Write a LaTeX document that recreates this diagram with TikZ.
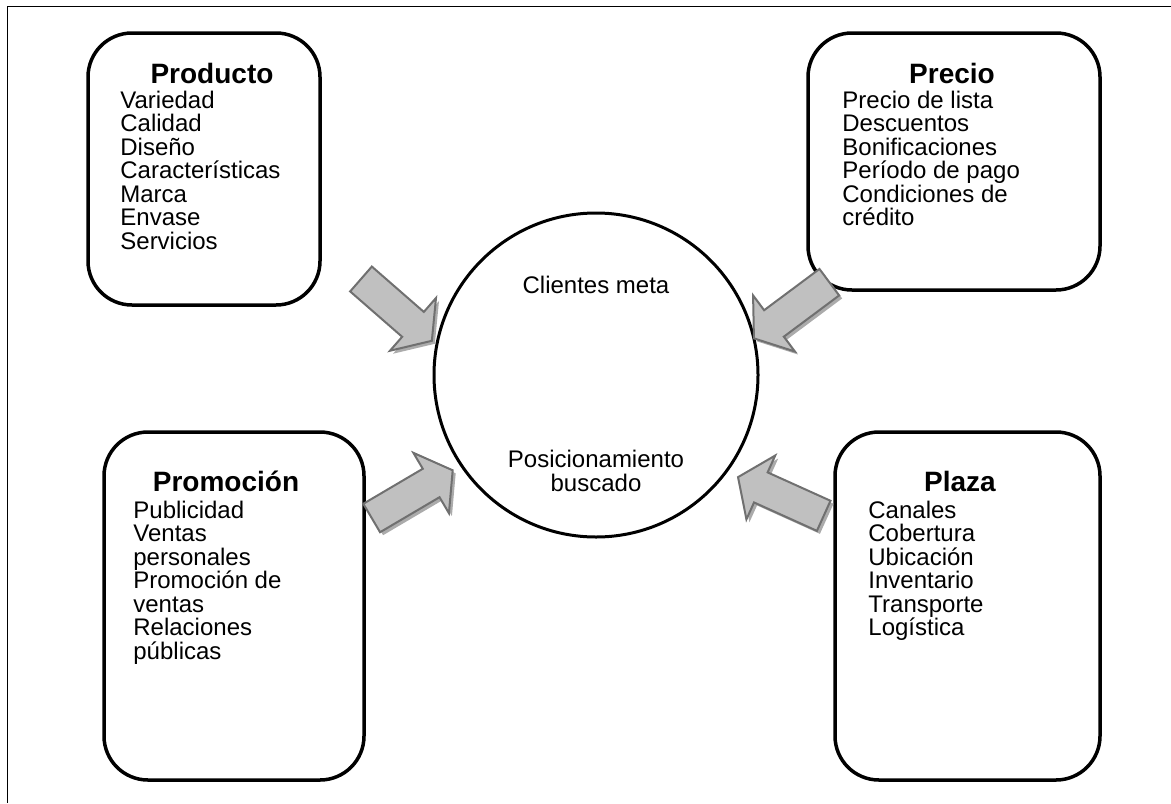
\documentclass[tikz,border=0pt]{standalone}
\usepackage{fontspec}
\setmainfont{Liberation Sans}
\definecolor{arrowfill}{HTML}{C0C0C0}
\definecolor{arrowline}{HTML}{707070}
\definecolor{arrowshadow}{HTML}{ABABAB}
\begin{document}
\begin{tikzpicture}[x=0.5pt,y=-0.5pt,
  frameline/.style={line width=0.75pt},
  mixbox/.style={draw, line width=1.75pt, rounded corners=22pt, inner sep=0pt},
  hub/.style={draw, circle, line width=1.5pt, minimum size=162pt, inner sep=0pt},
  boxtitle/.style={font=\fontsize{14}{16}\selectfont\bfseries, anchor=base, inner sep=0pt},
  items/.style={font=\fontsize{12}{11.75}\selectfont, align=left, anchor=base west, inner sep=0pt},
  hubtext/.style={font=\fontsize{12}{11.75}\selectfont, align=center, anchor=base, inner sep=0pt},
  arrowbody/.style={fill=arrowfill, draw=arrowline, line width=1pt, line join=miter},
  arrowshade/.style={fill=arrowshadow},
]
\useasboundingbox (0,0) rectangle (1171,803);

% outer frame
\draw[frameline] (1171,6.5) -- (7.5,6.5) -- (7.5,803);

% the four mix boxes
\node[mixbox, minimum width=116pt, minimum height=136pt] (producto) at (204,169) {};
\node[mixbox, minimum width=146pt, minimum height=128.5pt] (precio) at (954,161.5) {};
\node[mixbox, minimum width=130pt, minimum height=174pt] (promocion) at (234,606) {};
\node[mixbox, minimum width=132.5pt, minimum height=174pt] (plaza) at (967.5,606) {};

% titles
\node[boxtitle] (tprod) at (212,83) {Producto};
\node[boxtitle] (tprec) at (952,83) {Precio};
\node[boxtitle] (tprom) at (226,491) {Promoción};
\node[boxtitle] (tplaz) at (960,491) {Plaza};

% item lists (anchored at the baseline of their last line)
\node[items] (lprod) at (120,249) {Variedad\\Calidad\\Diseño\\Características\\Marca\\Envase\\Servicios};
\node[items] (lprec) at (842,225.5) {Precio de lista\\Descuentos\\Bonificaciones\\Período de pago\\Condiciones de\\crédito};
\node[items] (lprom) at (133,659) {Publicidad\\Ventas\\personales\\Promoción de\\ventas\\Relaciones\\públicas};
\node[items] (lplaz) at (868,635.5) {Canales\\Cobertura\\Ubicación\\Inventario\\Transporte\\Logística};

% central circle
\node[hub] (hub) at (596,375) {};
\node[hubtext] (meta) at (596,293) {Clientes meta};
\node[hubtext] (pos) at (596,491) {Posicionamiento\\buscado};

% block arrows pointing at the circle
\coordinate (a1) at (361,279);
\coordinate (a2) at (829.3,282.2);
\coordinate (a3) at (371.7,518);
\coordinate (a4) at (823.7,515.8);
\foreach \c/\a in {a1/-41.1, a2/-143.3, a3/30.5, a4/155.7} {
  \fill[arrowshade, shift={(\c)}, shift={(3,3)}, rotate=\a]
    (0,-16.5) -- (69,-16.5) -- (69,-35) -- (94,0) -- (69,35) -- (69,16.5) -- (0,16.5) -- cycle;
  \draw[arrowbody, shift={(\c)}, rotate=\a]
    (0,-16.5) -- (69,-16.5) -- (69,-35) -- (94,0) -- (69,35) -- (69,16.5) -- (0,16.5) -- cycle;
}
\end{tikzpicture}
\end{document}
